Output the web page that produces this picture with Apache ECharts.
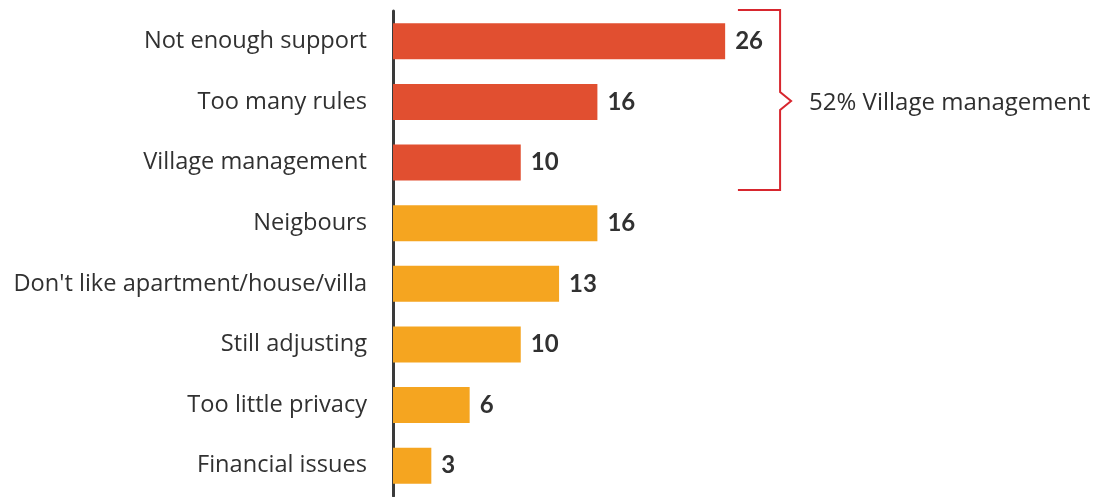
<!DOCTYPE html>
<html>
<head>
<meta charset="utf-8">
<script src="https://cdn.jsdelivr.net/npm/echarts@6/dist/echarts.min.js"></script>
<style>
  html, body { margin: 0; padding: 0; background: #ffffff; }
  #chart { width: 1111px; height: 497px; }
</style>
</head>
<body>
<div id="chart"></div>
<script>
// Reasons for dissatisfaction (share of respondents, %)
const categories = [
  'Not enough support',
  'Too many rules',
  'Village management',
  'Neigbours',
  "Don't like apartment/house/villa",
  'Still adjusting',
  'Too little privacy',
  'Financial issues'
];
const values = [26, 16, 10, 16, 13, 10, 6, 3];
// first three reasons belong to the village-management group
const groupFlags = [true, true, true, false, false, false, false, false];
const groupName = 'Village management';

const RED = '#E14F30';
const ORANGE = '#F5A520';
const TEXT = '#313131';

const chart = echarts.init(document.getElementById('chart'), null, { renderer: 'canvas' });

chart.setOption({
  animation: false,
  grid: { left: 393, top: 11, width: 511, bottom: 1, containLabel: false },
  xAxis: {
    type: 'value', min: 0, max: 40,
    show: false
  },
  yAxis: {
    type: 'category',
    data: categories,
    inverse: true,
    axisLine: { show: true, lineStyle: { color: '#3a3a3a', width: 3 } },
    axisTick: { show: false },
    axisLabel: {
      margin: 26,
      color: TEXT,
      fontFamily: 'Open Sans',
      fontSize: 23.6
    },
    splitLine: { show: false }
  },
  series: [{
    type: 'bar',
    barWidth: 36,
    data: values.map((v, i) => ({
      value: v,
      itemStyle: { color: groupFlags[i] ? RED : ORANGE }
    })),
    label: {
      show: true,
      position: 'right',
      distance: 10,
      color: TEXT,
      fontFamily: 'Lato',
      fontWeight: 'bold',
      fontSize: 24
    }
  }]
});

// Bracket marking the village-management group, positioned from the axes
function drawBracket() {
  const idx = groupFlags.map((f, i) => f ? i : -1).filter(i => i >= 0);
  const first = idx[0], last = idx[idx.length - 1];
  const y0 = chart.convertToPixel({ yAxisIndex: 0 }, categories[first]);
  const y1 = chart.convertToPixel({ yAxisIndex: 0 }, categories[first + 1]);
  const yN = chart.convertToPixel({ yAxisIndex: 0 }, categories[last]);
  const band = y1 - y0;
  const top = y0 - band / 2 - 1;
  const bottom = yN + band / 2 - 3;
  const mid = (top + bottom) / 2 + 1;
  const xs = chart.convertToPixel({ xAxisIndex: 0 }, 27);
  const xb = chart.convertToPixel({ xAxisIndex: 0 }, 30.3);
  const total = values.reduce((a, b) => a + b, 0);
  const share = Math.round(idx.reduce((s, i) => s + values[i], 0) / total * 100);

  chart.setOption({
    graphic: [
      {
        type: 'polyline',
        shape: {
          points: [
            [xs, top], [xb, top], [xb, mid - 9], [xb + 11, mid],
            [xb, mid + 9], [xb, bottom], [xs, bottom]
          ]
        },
        style: { stroke: '#D7262E', lineWidth: 2, fill: null }
      },
      {
        type: 'text',
        x: xb + 29,
        y: mid + 2,
        style: {
          text: share + '% ' + groupName,
          fill: '#2f2f2f',
          font: '24px "Open Sans"',
          verticalAlign: 'middle',
          align: 'left'
        }
      }
    ]
  });
}
drawBracket();
</script>
</body>
</html>
